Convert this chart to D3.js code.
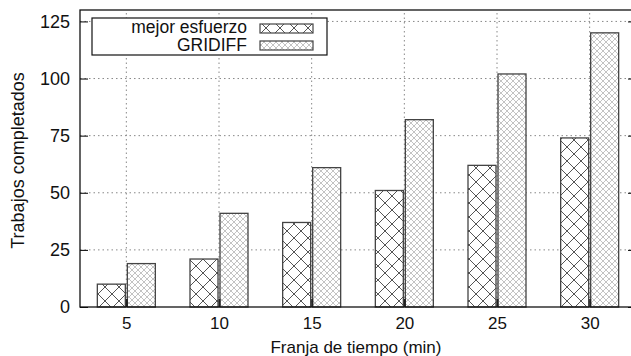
<!DOCTYPE html>
<html>
<head>
<meta charset="utf-8">
<title>Trabajos completados</title>
<style>
body {margin: 0; background: #fff;}
text {font-family: "Liberation Sans", Arial, sans-serif; fill: #111;}
.grid line {stroke: #888; stroke-width: 1; stroke-dasharray: 1.5,3;}
</style>
</head>
<body>
<div id="chart"></div>
<script src="https://cdn.jsdelivr.net/npm/d3@7"></script>
<script>
// data
var franjas = ['5', '10', '15', '20', '25', '30'];
var mejorEsfuerzo = [10, 21, 37, 51, 62, 74];
var gridiff = [19, 41, 61, 82, 102, 120];
var yTicks = [0, 25, 50, 75, 100, 125];
var seriesNames = ['mejor esfuerzo', 'GRIDIFF'];

(function(d3) {
	var width = 631, height = 356;
	var left = 80, right = 636, top = 10, bottom = 307;
	var barW = 28;
	var fs = '18px';

	var svg = d3.select('#chart').append('svg')
		.attr('width', width)
		.attr('height', height);

	var defs = svg.append('defs');
	// coarse cross hatch
	var p1 = defs.append('pattern').attr('id', 'hatchBig')
		.attr('patternUnits', 'userSpaceOnUse')
		.attr('width', 14).attr('height', 14);
	p1.append('rect').attr('width', 14).attr('height', 14).attr('fill', '#fff');
	p1.append('path').attr('d', 'M0,0L14,14M14,0L0,14M-1,13L1,15M13,-1L15,1')
		.attr('stroke', '#555').attr('stroke-width', 1);
	// fine cross hatch
	var p2 = defs.append('pattern').attr('id', 'hatchFine')
		.attr('patternUnits', 'userSpaceOnUse')
		.attr('width', 6).attr('height', 6);
	p2.append('rect').attr('width', 6).attr('height', 6).attr('fill', '#fff');
	p2.append('path').attr('d', 'M0,0L6,6M6,0L0,6')
		.attr('stroke', '#b4b4b4').attr('stroke-width', 0.8);

	var x = d3.scalePoint().domain(franjas).range([left, right]).padding(0.5);
	var y = d3.scaleLinear().domain([0, 130]).range([bottom, top]);

	// grid
	var grid = svg.append('g').attr('class', 'grid');
	grid.selectAll('.hg').data(yTicks.filter(function(d) { return d > 0; }))
		.enter().append('line')
		.attr('x1', left).attr('x2', right)
		.attr('y1', function(d) { return y(d); })
		.attr('y2', function(d) { return y(d); });
	grid.selectAll('.vg').data(franjas)
		.enter().append('line')
		.attr('x1', function(d) { return x(d); })
		.attr('x2', function(d) { return x(d); })
		.attr('y1', bottom).attr('y2', top);

	// bars
	var series = [
		{name: seriesNames[0], values: mejorEsfuerzo, fill: 'url(#hatchBig)', off: -barW - 1},
		{name: seriesNames[1], values: gridiff, fill: 'url(#hatchFine)', off: 1}
	];
	series.forEach(function(s) {
		svg.append('g').selectAll('rect')
			.data(s.values)
			.enter().append('rect')
			.attr('x', function(d, i) { return x(franjas[i]) + s.off; })
			.attr('y', function(d) { return y(d); })
			.attr('width', barW)
			.attr('height', function(d) { return bottom - y(d); })
			.attr('fill', s.fill)
			.attr('stroke', '#444')
			.attr('stroke-width', 1.3);
	});

	// axes
	var yAxis = d3.axisLeft(y).tickValues(yTicks).tickSize(-8).tickPadding(10);
	var yg = svg.append('g').attr('transform', 'translate(' + left + ',0)').call(yAxis);
	yg.select('.domain').remove();
	yg.selectAll('text').style('font-size', fs);
	var yAxisR = d3.axisRight(y).tickValues(yTicks).tickSize(-8).tickFormat('');
	var yr = svg.append('g').attr('transform', 'translate(' + right + ',0)').call(yAxisR);
	yr.select('.domain').remove();

	var xAxis = d3.axisBottom(x).tickSize(-8).tickPadding(10);
	var xg = svg.append('g').attr('transform', 'translate(0,' + bottom + ')').call(xAxis);
	xg.select('.domain').remove();
	xg.selectAll('line').attr('stroke-width', 2).attr('stroke', '#222');
	xg.selectAll('text').style('font-size', '17px');

	svg.append('rect')
		.attr('x', left).attr('y', top)
		.attr('width', right - left).attr('height', bottom - top)
		.attr('fill', 'none').attr('stroke', '#111').attr('stroke-width', 1.3);

	// axis titles
	svg.append('text')
		.attr('x', (left + right) / 2 - 2).attr('y', 353)
		.attr('text-anchor', 'middle')
		.style('font-size', '17px')
		.text('Franja de tiempo (min)');
	svg.append('text')
		.attr('transform', 'translate(24,' + ((top + bottom) / 2 + 2) + ') rotate(-90)')
		.attr('text-anchor', 'middle')
		.style('font-size', fs)
		.text('Trabajos completados');

	// legend
	var lg = svg.append('g');
	lg.append('rect')
		.attr('x', 92).attr('y', 18).attr('width', 235).attr('height', 37)
		.attr('fill', '#fff').attr('stroke', '#111').attr('stroke-width', 1.2);
	series.forEach(function(s, i) {
		lg.append('text')
			.attr('x', 247).attr('y', 33 + i * 18)
			.attr('text-anchor', 'end')
			.style('font-size', '17.5px')
			.text(s.name);
		lg.append('rect')
			.attr('x', 260).attr('y', 24 + i * 17)
			.attr('width', 53).attr('height', 9)
			.attr('fill', s.fill)
			.attr('stroke', '#444').attr('stroke-width', 1.2);
	});
})(window.d3);
</script>
</body>
</html>
